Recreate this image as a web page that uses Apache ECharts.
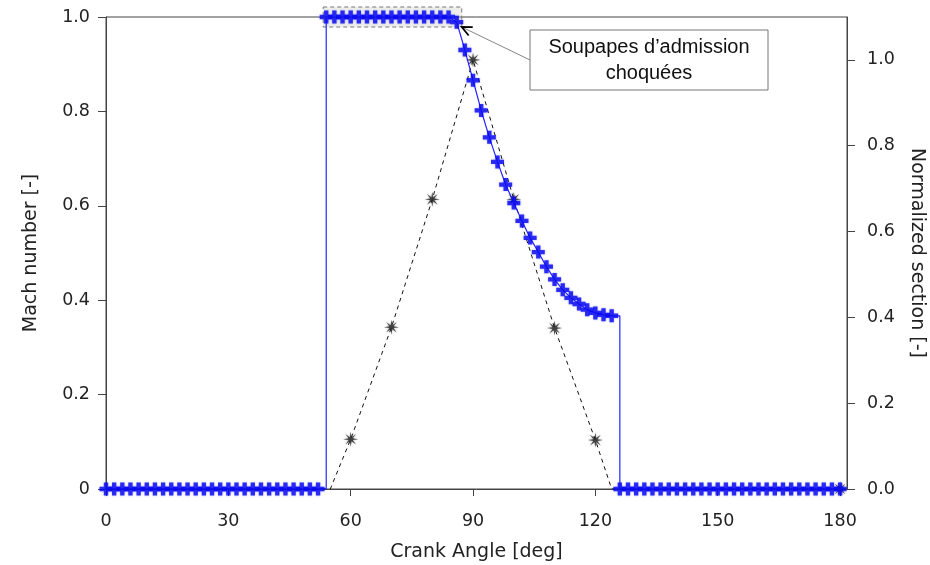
<!DOCTYPE html>
<html><head><meta charset="utf-8">
<script src="https://cdn.jsdelivr.net/npm/echarts@6/dist/echarts.min.js"></script>
<style>html,body{margin:0;padding:0;background:#fff}#c{width:930px;height:565px}</style>
</head><body><div id="c"></div>
<script>
// ---- data ----
const angle = [0,2,4,6,8,10,12,14,16,18,20,22,24,26,28,30,32,34,36,38,40,42,44,46,48,50,52,
  54,56,58,60,62,64,66,68,70,72,74,76,78,80,82,84,
  86,88,90,92,94,96,98,100,102,104,106,108,110,112,114,116,118,120,122,124,
  126,128,130,132,134,136,138,140,142,144,146,148,150,152,154,156,158,160,162,164,166,168,170,172,174,176,178,180];
const mach = [0,0,0,0,0,0,0,0,0,0,0,0,0,0,0,0,0,0,0,0,0,0,0,0,0,0,0,
  1,1,1,1,1,1,1,1,1,1,1,1,1,1,1,1,
  0.989,0.930,0.866,0.802,0.745,0.693,0.645,0.606,0.568,0.532,0.502,0.471,0.444,0.422,0.405,0.392,0.380,0.373,0.369,0.367,
  0,0,0,0,0,0,0,0,0,0,0,0,0,0,0,0,0,0,0,0,0,0,0,0,0,0,0,0];
const machRiseAngle = 54;
const machFallAngle = 126;
const sectionAngle = [0, 55, 60, 70, 80, 90, 100, 110, 120, 124, 180];
const sectionValue = [0, 0, 0.116, 0.377, 0.675, 1.0, 0.675, 0.375, 0.114, 0, 0];
const starAngle = [60, 70, 80, 90, 100, 110, 120, 180];
const starValue = [0.116, 0.377, 0.675, 1.0, 0.675, 0.375, 0.114, 0];
const xTicks = [0, 30, 60, 90, 120, 150, 180];
const leftTicks = [0, 0.2, 0.4, 0.6, 0.8, 1.0];
const rightTicks = [0, 0.2, 0.4, 0.6, 0.8, 1.0];
const chokedRange = [54, 86];
const calloutText = 'Soupapes d’admission\nchoquées';

// ---- build ----
const markerData = angle.map((a, i) => [a, mach[i]]);
const lineData = [];
markerData.forEach((p, i) => {
  if (p[0] === machRiseAngle) lineData.push([machRiseAngle, 0]);
  if (p[0] === machFallAngle) lineData.push([machFallAngle, mach[i - 1]]);
  lineData.push(p);
});
const sectionData = sectionAngle.map((a, i) => [a, sectionValue[i]]);
const starData = starAngle.map((a, i) => [a, starValue[i]]);

const plusPath = 'path://M4,0H8V4H12V8H8V12H4V8H0V4H4Z';
let sp = [];
for (let i = 0; i < 16; i++) {
  const r = i % 2 === 0 ? 10 : 3;
  const t = i * Math.PI / 8;
  sp.push((i === 0 ? 'M' : 'L') + (r * Math.cos(t)).toFixed(3) + ',' + (r * Math.sin(t)).toFixed(3));
}
const starPath = 'path://' + sp.join('') + 'Z';

const FONT = 'DejaVu Sans';
const TXT = '#222';
const AX = '#444';

const chart = echarts.init(document.getElementById('c'), null, { renderer: 'canvas' });
chart.setOption({
  animation: false,
  backgroundColor: '#fff',
  grid: { left: 106, right: 83, top: 17, bottom: 76, show: true, borderColor: AX, borderWidth: 1,
    containLabel: false, outerBoundsMode: 'none' },
  xAxis: {
    type: 'value', min: 0, max: 181.7,
    name: 'Crank Angle [deg]', nameLocation: 'middle', nameGap: 54,
    nameTextStyle: { fontFamily: FONT, fontSize: 19, color: TXT },
    axisLine: { lineStyle: { color: AX } },
    axisTick: { customValues: xTicks, length: 7, lineStyle: { color: AX } },
    axisLabel: { customValues: xTicks, fontFamily: FONT, fontSize: 17.5, color: TXT, margin: 23 },
    splitLine: { show: false }
  },
  yAxis: [{
    type: 'value', min: 0, max: 1, position: 'left',
    name: 'Mach number [-]', nameLocation: 'middle', nameGap: 65,
    nameTextStyle: { fontFamily: FONT, fontSize: 19, color: TXT },
    axisLine: { show: true, lineStyle: { color: AX } },
    axisTick: { show: true, customValues: leftTicks, length: 8, lineStyle: { color: AX } },
    axisLabel: { customValues: leftTicks, fontFamily: FONT, fontSize: 17.5, color: TXT, margin: 16,
      formatter: v => v === 0 ? '0' : v.toFixed(1) },
    splitLine: { show: false }
  }, {
    type: 'value', min: 0, max: 1.1, position: 'right',
    name: 'Normalized section [-]', nameLocation: 'middle', nameGap: 60, nameRotate: -90,
    nameTextStyle: { fontFamily: FONT, fontSize: 19, color: TXT },
    axisLine: { show: true, lineStyle: { color: AX } },
    axisTick: { show: true, customValues: rightTicks, length: 8, lineStyle: { color: AX } },
    axisLabel: { customValues: rightTicks, fontFamily: FONT, fontSize: 17.5, color: TXT, margin: 20,
      formatter: v => v.toFixed(1) },
    splitLine: { show: false }
  }],
  series: [{
    type: 'line', yAxisIndex: 1, data: sectionData, showSymbol: false, z: 2,
    lineStyle: { color: '#111', width: 1, type: [4, 4] }
  }, {
    type: 'scatter', yAxisIndex: 1, data: starData, symbol: starPath, symbolSize: 15, z: 3, clip: false,
    itemStyle: { color: '#222', shadowBlur: 2, shadowColor: 'rgba(0,0,0,0.4)' }
  }, {
    type: 'line', yAxisIndex: 0, data: lineData, showSymbol: false, z: 4,
    lineStyle: { color: '#2323ff', width: 1.2 }
  }, {
    type: 'scatter', yAxisIndex: 0, data: markerData, symbol: plusPath, symbolSize: 13, z: 5, clip: false,
    itemStyle: { color: '#0808f0', shadowBlur: 2, shadowColor: 'rgba(40,40,255,0.5)' }
  }]
});

// ---- annotations ----
const pA = chart.convertToPixel({ xAxisIndex: 0, yAxisIndex: 0 }, [chokedRange[0], 1]);
const pB = chart.convertToPixel({ xAxisIndex: 0, yAxisIndex: 0 }, [chokedRange[1], 1]);
const bx0 = pA[0] - 3, bx1 = pB[0] + 5, by0 = pA[1] - 10, by1 = pA[1] + 10;
const tip = [bx1, by1];
const boxX = 530, boxY = 30, boxW = 238, boxH = 60;
const start = [boxX, boxY + boxH / 2];
const dx = tip[0] - start[0], dy = tip[1] - start[1];
const L = Math.hypot(dx, dy), ux = dx / L, uy = dy / L;
const ang = 25 * Math.PI / 180, al = 11;
function rot(x, y, a) { return [x * Math.cos(a) - y * Math.sin(a), x * Math.sin(a) + y * Math.cos(a)]; }
const h1 = rot(-ux, -uy, ang), h2 = rot(-ux, -uy, -ang);
chart.setOption({
  graphic: [
    { type: 'rect', z: 1, shape: { x: bx0, y: by0, width: bx1 - bx0, height: by1 - by0 },
      style: { fill: 'rgba(205,205,195,0.35)', stroke: '#777', lineWidth: 1, lineDash: [4, 3] } },
    { type: 'line', z: 10, shape: { x1: start[0], y1: start[1], x2: tip[0], y2: tip[1] },
      style: { stroke: '#666', lineWidth: 0.8 } },
    { type: 'polyline', z: 10, shape: { points: [[tip[0] + h1[0] * al, tip[1] + h1[1] * al], tip, [tip[0] + h2[0] * al, tip[1] + h2[1] * al]] },
      style: { stroke: '#000', lineWidth: 1.8, fill: null } },
    { type: 'rect', z: 10, shape: { x: boxX, y: boxY, width: boxW, height: boxH },
      style: { fill: '#fff', stroke: '#777', lineWidth: 1 } },
    { type: 'text', z: 11, x: boxX + boxW / 2, y: boxY + boxH / 2,
      style: { text: calloutText, fontFamily: 'Liberation Sans', fontSize: 20, fill: '#111',
        align: 'center', verticalAlign: 'middle', lineHeight: 26 } }
  ]
});
</script>
</body></html>
